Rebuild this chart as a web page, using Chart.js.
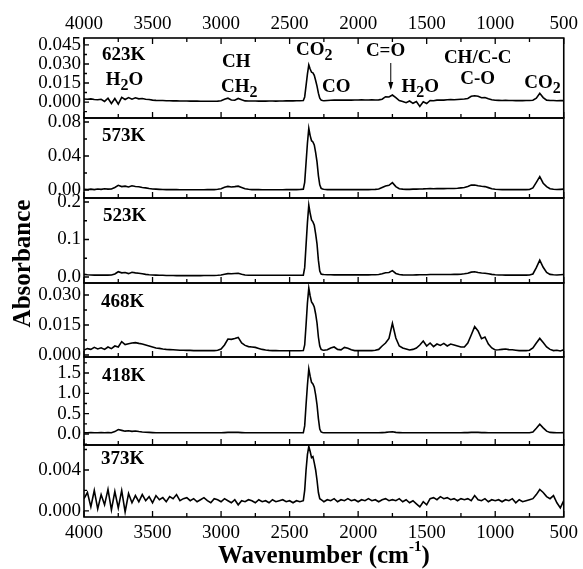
<!DOCTYPE html>
<html><head><meta charset="utf-8">
<script src="https://cdn.jsdelivr.net/npm/chart.js@4/dist/chart.umd.min.js"></script>
<style>html,body{margin:0;padding:0;background:#fff}#wrap{position:relative;width:583px;height:569px}</style>
</head><body><div id="wrap"><canvas id="c" width="583" height="569"></canvas></div>
<script>
// ---------- DATA ----------
const wavenumbers = [
4000,3975,3950,3925,3900,3875,3850,3825,3800,3775,
3750,3725,3700,3675,3650,3625,3600,3575,3550,3525,
3500,3475,3450,3425,3400,3375,3350,3325,3300,3275,
3250,3225,3200,3175,3150,3125,3100,3075,3050,3025,
3000,2975,2950,2925,2900,2875,2850,2825,2800,2775,
2750,2725,2700,2675,2650,2625,2600,2575,2550,2525,
2500,2475,2450,2425,
2400,2390,2380,2370,2360,2350,2340,2330,2320,2310,2300,2290,2280,2270,2260,2250,
2225,2200,2175,2150,2125,2100,2075,2050,2025,2000,
1975,1950,1925,1900,1875,1850,1825,1800,1775,1750,
1725,1700,1675,1650,1625,1600,1575,1550,1525,1500,
1475,1450,1425,1400,1375,1350,1325,1300,1275,1250,
1225,1200,1175,1150,1125,1100,1075,1050,1025,1000,
975,950,925,900,875,850,825,800,775,750,
725,700,675,650,625,600,575,550,525,500];

const abs623K = [
0.0024,0.0022,0.0025,0.0020,0.0018,0.0022,0.0005,0.0030,-0.0012,0.0028,
-0.0016,0.0037,0.0020,0.0035,0.0022,0.0033,0.0025,0.0028,0.0022,0.0020,
0.0015,0.0013,0.0012,0.0012,0.0010,0.0010,0.0009,0.0009,0.0008,0.0008,
0.0008,0.0007,0.0007,0.0007,0.0006,0.0006,0.0006,0.0006,0.0006,0.0007,
0.0010,0.0022,0.0030,0.0016,0.0014,0.0028,0.0018,0.0009,0.0008,0.0008,
0.0008,0.0007,0.0008,0.0007,0.0008,0.0008,0.0007,0.0008,0.0008,0.0009,
0.0009,0.0009,0.0010,0.0010,
0.0012,0.0040,0.0130,0.0220,0.0292,0.0260,0.0235,0.0230,0.0210,0.0170,0.0125,0.0070,0.0030,0.0015,0.0012,0.0010,
0.0012,0.0014,0.0016,0.0015,0.0016,0.0015,0.0016,0.0015,0.0016,0.0016,
0.0017,0.0016,0.0016,0.0017,0.0016,0.0017,0.0022,0.0042,0.0040,0.0055,
0.0035,0.0012,0.0005,-0.0005,0.0008,-0.0010,0.0004,-0.0035,0.0002,-0.0012,
0.0012,0.0010,0.0015,0.0016,0.0015,0.0018,0.0019,0.0018,0.0020,0.0022,
0.0024,0.0028,0.0045,0.0050,0.0046,0.0034,0.0036,0.0025,0.0018,0.0014,
0.0013,0.0012,0.0013,0.0012,0.0012,0.0011,0.0012,0.0011,0.0012,0.0012,
0.0014,0.0030,0.0069,0.0035,0.0015,0.0012,0.0012,0.0010,0.0012,0.0011];

const abs573K = [
0.0008,0.0006,0.0010,0.0005,0.0012,0.0008,0.0015,0.0010,0.0012,0.0030,
0.0055,0.0040,0.0045,0.0035,0.0050,0.0042,0.0038,0.0030,0.0025,0.0018,
0.0012,0.0010,0.0008,0.0006,0.0005,0.0005,0.0004,0.0004,0.0003,0.0003,
0.0003,0.0003,0.0003,0.0003,0.0003,0.0003,0.0004,0.0004,0.0005,0.0008,
0.0015,0.0032,0.0042,0.0036,0.0040,0.0045,0.0030,0.0015,0.0008,0.0005,
0.0004,0.0004,0.0003,0.0003,0.0003,0.0003,0.0003,0.0003,0.0003,0.0004,
0.0004,0.0005,0.0005,0.0006,
0.0010,0.0090,0.0320,0.0550,0.0726,0.0640,0.0580,0.0565,0.0530,0.0440,0.0330,0.0170,0.0060,0.0020,0.0012,0.0008,
0.0005,0.0004,0.0004,0.0004,0.0004,0.0004,0.0004,0.0004,0.0004,0.0004,
0.0005,0.0005,0.0005,0.0006,0.0008,0.0012,0.0030,0.0048,0.0055,0.0086,
0.0040,0.0015,0.0010,0.0008,0.0008,0.0010,0.0010,0.0012,0.0013,0.0015,
0.0016,0.0015,0.0016,0.0017,0.0016,0.0017,0.0017,0.0018,0.0020,0.0025,
0.0030,0.0042,0.0058,0.0059,0.0050,0.0044,0.0040,0.0028,0.0015,0.0008,
0.0006,0.0005,0.0005,0.0005,0.0004,0.0004,0.0004,0.0005,0.0005,0.0006,
0.0025,0.0090,0.0157,0.0080,0.0040,0.0015,0.0008,0.0006,0.0008,0.0010];

const abs523K = [
0.0070,0.0060,0.0055,0.0050,0.0055,0.0050,0.0052,0.0050,0.0055,0.0080,
0.0140,0.0110,0.0120,0.0090,0.0125,0.0110,0.0100,0.0085,0.0070,0.0060,
0.0055,0.0050,0.0045,0.0045,0.0040,0.0040,0.0040,0.0038,0.0038,0.0038,
0.0038,0.0038,0.0038,0.0038,0.0038,0.0040,0.0040,0.0040,0.0042,0.0045,
0.0055,0.0075,0.0090,0.0085,0.0095,0.0100,0.0075,0.0055,0.0048,0.0045,
0.0045,0.0045,0.0045,0.0045,0.0045,0.0045,0.0045,0.0045,0.0045,0.0045,
0.0045,0.0045,0.0045,0.0046,
0.0050,0.0250,0.0850,0.1450,0.1920,0.1700,0.1520,0.1470,0.1380,0.1150,0.0880,0.0450,0.0160,0.0080,0.0070,0.0065,
0.0060,0.0060,0.0058,0.0060,0.0058,0.0058,0.0058,0.0058,0.0058,0.0058,
0.0058,0.0058,0.0058,0.0060,0.0060,0.0065,0.0085,0.0115,0.0120,0.0170,
0.0095,0.0065,0.0058,0.0055,0.0055,0.0055,0.0058,0.0060,0.0060,0.0062,
0.0065,0.0065,0.0068,0.0065,0.0065,0.0068,0.0068,0.0070,0.0070,0.0075,
0.0085,0.0100,0.0130,0.0140,0.0120,0.0105,0.0100,0.0085,0.0070,0.0060,
0.0055,0.0055,0.0050,0.0050,0.0050,0.0050,0.0050,0.0050,0.0050,0.0055,
0.0080,0.0250,0.0450,0.0260,0.0120,0.0070,0.0060,0.0055,0.0060,0.0065];

const abs468K = [
0.0025,0.0032,0.0028,0.0038,0.0030,0.0036,0.0028,0.0040,0.0032,0.0045,
0.0040,0.0067,0.0052,0.0056,0.0060,0.0062,0.0058,0.0055,0.0050,0.0045,
0.0040,0.0035,0.0033,0.0030,0.0028,0.0027,0.0026,0.0025,0.0024,0.0024,
0.0023,0.0023,0.0022,0.0022,0.0022,0.0022,0.0022,0.0022,0.0022,0.0024,
0.0030,0.0050,0.0080,0.0078,0.0082,0.0088,0.0060,0.0048,0.0042,0.0040,
0.0038,0.0033,0.0028,0.0025,0.0023,0.0022,0.0022,0.0021,0.0021,0.0021,
0.0021,0.0021,0.0021,0.0021,
0.0022,0.0050,0.0150,0.0260,0.0335,0.0295,0.0265,0.0255,0.0240,0.0205,0.0160,0.0090,0.0045,0.0028,0.0025,0.0024,
0.0026,0.0035,0.0040,0.0028,0.0026,0.0038,0.0034,0.0026,0.0022,0.0022,
0.0022,0.0022,0.0022,0.0022,0.0024,0.0028,0.0045,0.0060,0.0083,0.0158,
0.0085,0.0045,0.0035,0.0030,0.0025,0.0028,0.0035,0.0050,0.0070,0.0045,
0.0060,0.0042,0.0055,0.0048,0.0058,0.0045,0.0055,0.0050,0.0045,0.0040,
0.0040,0.0060,0.0100,0.0142,0.0120,0.0082,0.0090,0.0055,0.0035,0.0025,
0.0026,0.0028,0.0030,0.0027,0.0026,0.0024,0.0022,0.0022,0.0022,0.0024,
0.0035,0.0060,0.0083,0.0062,0.0040,0.0028,0.0022,0.0024,0.0020,0.0026];

const abs418K = [
0.03,0.03,0.035,0.03,0.03,0.035,0.03,0.035,0.03,0.06,
0.11,0.09,0.07,0.08,0.065,0.075,0.06,0.05,0.045,0.04,
0.035,0.03,0.03,0.03,0.03,0.03,0.03,0.03,0.03,0.03,
0.03,0.03,0.03,0.03,0.03,0.03,0.03,0.03,0.03,0.03,
0.03,0.035,0.04,0.04,0.04,0.04,0.035,0.03,0.03,0.03,
0.03,0.03,0.03,0.03,0.03,0.03,0.03,0.03,0.03,0.03,
0.03,0.03,0.03,0.03,
0.03,0.20,0.72,1.20,1.60,1.42,1.27,1.23,1.15,0.96,0.72,0.38,0.12,0.05,0.035,0.03,
0.03,0.03,0.03,0.03,0.03,0.03,0.03,0.03,0.03,0.03,
0.03,0.03,0.03,0.03,0.03,0.03,0.035,0.04,0.05,0.055,
0.04,0.035,0.03,0.03,0.03,0.03,0.03,0.03,0.03,0.03,
0.03,0.03,0.03,0.03,0.03,0.03,0.03,0.03,0.03,0.03,
0.035,0.035,0.04,0.045,0.04,0.035,0.035,0.03,0.03,0.03,
0.03,0.03,0.03,0.03,0.03,0.03,0.03,0.03,0.03,0.03,
0.05,0.14,0.24,0.15,0.07,0.04,0.035,0.03,0.03,0.035];

const abs373K = [
0.0012,0.0018,0.0004,0.0020,0.0002,0.0016,0.0006,0.0021,0.0001,0.0019,
0.0003,0.0020,-0.0001,0.0017,0.0008,0.0015,0.0009,0.0016,0.0010,0.0014,
0.0008,0.0015,0.0011,0.0013,0.0009,0.0014,0.0012,0.0016,0.0010,0.0012,
0.0013,0.0010,0.0012,0.0009,0.0011,0.0013,0.0010,0.0008,0.0012,0.0011,
0.0009,0.0012,0.0010,0.0008,0.0011,0.0006,0.0010,0.0009,0.0011,0.0010,
0.0008,0.0011,0.0009,0.0010,0.0008,0.0011,0.0009,0.0010,0.0011,0.0009,
0.0010,0.0008,0.0010,0.0009,
0.0010,0.0020,0.0040,0.0055,0.0063,0.0058,0.0052,0.0053,0.0047,0.0040,0.0030,0.0018,0.0012,0.0011,0.0010,0.0009,
0.0011,0.0010,0.0012,0.0009,0.0011,0.0010,0.0012,0.0010,0.0011,0.0009,
0.0011,0.0010,0.0012,0.0010,0.0011,0.0009,0.0011,0.0012,0.0010,0.0011,
0.0010,0.0012,0.0009,0.0011,0.0008,0.0010,0.0007,0.0004,0.0009,0.0006,
0.0012,0.0013,0.0011,0.0014,0.0012,0.0013,0.0011,0.0012,0.0010,0.0012,
0.0011,0.0012,0.0010,0.0015,0.0011,0.0010,0.0012,0.0009,0.0011,0.0010,
0.0011,0.0009,0.0011,0.0010,0.0012,0.0008,0.0011,0.0009,0.0010,0.0011,
0.0012,0.0016,0.0021,0.0018,0.0014,0.0012,0.0015,0.0008,0.0003,0.0010];

const panelNames = ['623K','573K','523K','468K','418K','373K'];
const panelSeries = [abs623K, abs573K, abs523K, abs468K, abs418K, abs373K];
const yTickValues = [
  [0, 0.015, 0.030, 0.045],
  [0, 0.04, 0.08],
  [0, 0.1, 0.2],
  [0, 0.015, 0.030],
  [0, 0.5, 1.0, 1.5],
  [0, 0.004]];
const yTickDecimals = [3, 2, 1, 3, 1, 3];
const yRangeMin = [-0.0126, -0.0094, -0.016, -0.001, -0.27, -0.00059];
const yRangeMax = [0.0505, 0.0847, 0.2107, 0.036, 1.893, 0.00644];
const xTickValues = [4000, 3500, 3000, 2500, 2000, 1500, 1000, 500];
const xMinorTickValues = [3750, 3250, 2750, 2250, 1750, 1250, 750];

// ---------- LAYOUT / STYLE ----------
const panelHeights = [80, 80, 85, 74, 88, 72];
const SERIF = '"Liberation Serif", "Times New Roman", serif';
const ids = panelNames.map((n, i) => 'p' + i);

const scales = {
  x: {
    type: 'linear', position: 'bottom', min: 500, max: 4000, reverse: true,
    afterBuildTicks: s => { s.ticks = xTickValues.map(v => ({value: v})); },
    afterFit: s => { s.height = 52; },
    grid: {display: false, drawTicks: false}, border: {display: false},
    ticks: {autoSkip: false, maxRotation: 0, padding: 5, color: '#000', font: {family: SERIF, size: 19},
      callback: v => String(v)}
  },
  x2: {
    type: 'linear', position: 'top', min: 500, max: 4000, reverse: true,
    afterBuildTicks: s => { s.ticks = xTickValues.map(v => ({value: v})); },
    afterFit: s => { s.height = 38; },
    grid: {display: false, drawTicks: false}, border: {display: false},
    ticks: {autoSkip: false, maxRotation: 0, padding: 3, color: '#000', font: {family: SERIF, size: 19},
      callback: v => String(v)}
  }
};
// stacked panels: the first declared is placed at the bottom, so declare bottom-up
for (let i = ids.length - 1; i >= 0; i--) {
  const k = i;
  scales[ids[k]] = {
    type: 'linear', position: 'left', stack: 'panels', stackWeight: panelHeights[k],
    min: yRangeMin[k], max: yRangeMax[k],
    afterBuildTicks: s => { s.ticks = yTickValues[k].map(v => ({value: v})); },
    afterFit: s => { s.width = 84; },
    grid: {display: false, drawTicks: false}, border: {display: false},
    ticks: {autoSkip: false, padding: 3, color: '#000', font: {family: SERIF, size: 19},
      callback: v => Number(v).toFixed(yTickDecimals[k])}
  };
}

const datasets = panelSeries.map((arr, i) => ({
  label: panelNames[i],
  data: wavenumbers.map((w, k) => ({x: w, y: arr[k]})),
  yAxisID: ids[i], xAxisID: 'x',
  borderColor: '#000', borderWidth: 1.6, pointRadius: 0, tension: 0, fill: false
}));

// annotation texts: [parts, wavenumber(center), offset from panel top (px), panel index]
const annotations = [
  [[['623K']], 3711, 17, 0],
  [[['H'], ['2', 1], ['O']], 3704, 42, 0],
  [[['CH']], 2889, 24, 0],
  [[['CH'], ['2', 1]], 2867, 49, 0],
  [[['CO'], ['2', 1]], 2320, 12, 0],
  [[['CO']], 2160, 49, 0],
  [[['C=O']], 1800, 13, 0],
  [[['H'], ['2', 1], ['O']], 1547, 49, 0],
  [[['CH/C-C']], 1128, 20, 0],
  [[['C-O']], 1128, 41, 0],
  [[['CO'], ['2', 1]], 655, 45, 0],
  [[['573K']], 3711, 18, 1],
  [[['523K']], 3704, 18, 2],
  [[['468K']], 3718, 19, 3],
  [[['418K']], 3711, 19, 4],
  [[['373K']], 3718, 14, 5]
];

function drawRich(ctx, parts, cx, cy, size) {
  const big = 'bold ' + size + 'px ' + SERIF;
  const small = 'bold ' + Math.round(size * 0.85) + 'px ' + SERIF;
  let w = 0;
  parts.forEach(p => { ctx.font = p[1] ? small : big; w += ctx.measureText(p[0]).width; });
  let x = cx - w / 2;
  ctx.textBaseline = 'middle'; ctx.textAlign = 'left';
  parts.forEach(p => {
    ctx.font = p[1] ? small : big;
    ctx.fillText(p[0], x, p[1] ? cy + size * 0.3 : cy);
    x += ctx.measureText(p[0]).width;
  });
}

const deco = {
  id: 'deco',
  afterDraw(chart) {
    const ctx = chart.ctx, ca = chart.chartArea, xs = chart.scales.x;
    ctx.save();
    ctx.strokeStyle = '#000'; ctx.fillStyle = '#000';
    ids.forEach((id, i) => {
      const s = chart.scales[id];
      ctx.lineWidth = 1.6;
      ctx.strokeRect(ca.left, s.top, ca.right - ca.left, s.bottom - s.top);
      ctx.lineWidth = 1.3;
      ctx.beginPath();
      const tv = yTickValues[i], step = tv[1] - tv[0];
      tv.forEach(v => { const y = s.getPixelForValue(v); ctx.moveTo(ca.left, y); ctx.lineTo(ca.left + 5, y); });
      for (let v = tv[0] - step / 2; v <= s.max; v += step) {
        if (v < s.min) continue;
        const y = s.getPixelForValue(v); ctx.moveTo(ca.left, y); ctx.lineTo(ca.left + 3, y);
      }
      xTickValues.forEach(v => { const x = xs.getPixelForValue(v); ctx.moveTo(x, s.bottom); ctx.lineTo(x, s.bottom - 6); });
      xMinorTickValues.forEach(v => { const x = xs.getPixelForValue(v); ctx.moveTo(x, s.bottom); ctx.lineTo(x, s.bottom - 4); });
      if (i === 0) {
        xTickValues.forEach(v => { const x = xs.getPixelForValue(v); ctx.moveTo(x, s.top); ctx.lineTo(x, s.top + 6); });
        xMinorTickValues.forEach(v => { const x = xs.getPixelForValue(v); ctx.moveTo(x, s.top); ctx.lineTo(x, s.top + 4); });
      }
      ctx.stroke();
    });
    annotations.forEach(a => {
      const s = chart.scales[ids[a[3]]];
      drawRich(ctx, a[0], xs.getPixelForValue(a[1]), s.top + a[2], 19);
    });
    const s0 = chart.scales[ids[0]];
    const ax = xs.getPixelForValue(1762);
    ctx.lineWidth = 1;
    ctx.beginPath(); ctx.moveTo(ax, s0.top + 25); ctx.lineTo(ax, s0.top + 50); ctx.stroke();
    ctx.beginPath(); ctx.moveTo(ax - 2.5, s0.top + 44); ctx.lineTo(ax + 2.5, s0.top + 44); ctx.lineTo(ax, s0.top + 52); ctx.closePath(); ctx.fill();
    ctx.font = 'bold 25px ' + SERIF;
    ctx.textAlign = 'center'; ctx.textBaseline = 'middle';
    ctx.save();
    ctx.translate(24, (ca.top + ca.bottom) / 2 - 14);
    ctx.rotate(-Math.PI / 2);
    ctx.fillText('Absorbance', 0, 0);
    ctx.restore();
    const t1 = 'Wavenumber (cm', t2 = '-1', t3 = ')';
    const f1 = 'bold 25px ' + SERIF, f2 = 'bold 15px ' + SERIF;
    ctx.font = f1; const w1 = ctx.measureText(t1).width, w3 = ctx.measureText(t3).width;
    ctx.font = f2; const w2 = ctx.measureText(t2).width;
    let x0 = (ca.left + ca.right) / 2 - (w1 + w2 + w3) / 2;
    const by = 563;
    ctx.textAlign = 'left'; ctx.textBaseline = 'alphabetic';
    ctx.font = f1; ctx.fillText(t1, x0, by); x0 += w1;
    ctx.font = f2; ctx.fillText(t2, x0, by - 12); x0 += w2;
    ctx.font = f1; ctx.fillText(t3, x0, by);
    ctx.restore();
  }
};

new Chart(document.getElementById('c'), {
  type: 'line',
  data: {datasets},
  options: {
    responsive: false, animation: false, parsing: true,
    layout: {padding: {left: 0, right: 14, top: 0, bottom: 0}},
    plugins: {legend: {display: false}, tooltip: {enabled: false}},
    scales
  },
  plugins: [deco]
});
</script></body></html>
